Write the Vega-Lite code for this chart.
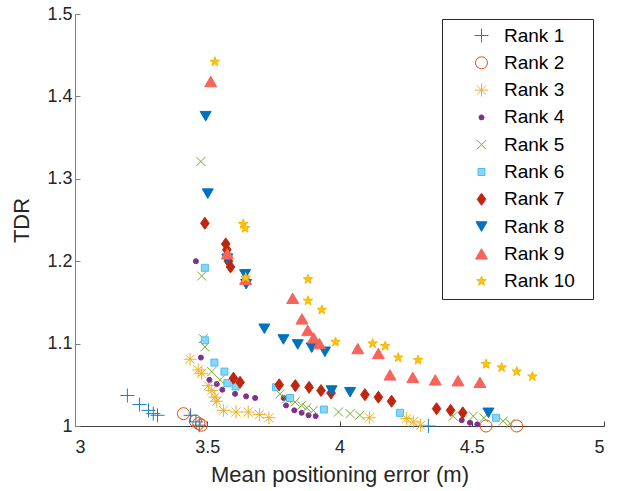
{
  "$schema": "https://vega.github.io/schema/vega-lite/v6.json",
  "width": 529,
  "height": 412,
  "autosize": "none",
  "padding": {"left": 75, "top": 14, "right": 22, "bottom": 65},
  "background": "white",
  "config": {
    "view": {"stroke": null},
    "font": "Liberation Sans"
  },
  "data": {
    "values": [
      {"r": "Rank 1", "x": 3.198, "y": 1.037},
      {"r": "Rank 1", "x": 3.244, "y": 1.026},
      {"r": "Rank 1", "x": 3.278, "y": 1.019},
      {"r": "Rank 1", "x": 3.296, "y": 1.015},
      {"r": "Rank 1", "x": 3.312, "y": 1.013},
      {"r": "Rank 1", "x": 3.437, "y": 1.013},
      {"r": "Rank 1", "x": 3.457, "y": 1.005},
      {"r": "Rank 1", "x": 3.47, "y": 1.001},
      {"r": "Rank 1", "x": 4.336, "y": 1.0},
      {"r": "Rank 2", "x": 3.41, "y": 1.015},
      {"r": "Rank 2", "x": 3.455, "y": 1.006},
      {"r": "Rank 2", "x": 3.468, "y": 1.003},
      {"r": "Rank 2", "x": 3.478, "y": 1.001},
      {"r": "Rank 2", "x": 4.554, "y": 1.0},
      {"r": "Rank 2", "x": 4.67, "y": 1.0},
      {"r": "Rank 3", "x": 3.435, "y": 1.081},
      {"r": "Rank 3", "x": 3.466, "y": 1.068},
      {"r": "Rank 3", "x": 3.479, "y": 1.064},
      {"r": "Rank 3", "x": 3.504, "y": 1.049},
      {"r": "Rank 3", "x": 3.517, "y": 1.043},
      {"r": "Rank 3", "x": 3.529, "y": 1.035},
      {"r": "Rank 3", "x": 3.536, "y": 1.03},
      {"r": "Rank 3", "x": 3.561, "y": 1.019},
      {"r": "Rank 3", "x": 3.609, "y": 1.017},
      {"r": "Rank 3", "x": 3.655, "y": 1.017},
      {"r": "Rank 3", "x": 3.697, "y": 1.014},
      {"r": "Rank 3", "x": 3.733, "y": 1.01},
      {"r": "Rank 3", "x": 4.113, "y": 1.01},
      {"r": "Rank 3", "x": 4.254, "y": 1.009},
      {"r": "Rank 3", "x": 4.279, "y": 1.005},
      {"r": "Rank 3", "x": 4.307, "y": 1.001},
      {"r": "Rank 4", "x": 3.457, "y": 1.2},
      {"r": "Rank 4", "x": 3.476, "y": 1.083},
      {"r": "Rank 4", "x": 3.508, "y": 1.056},
      {"r": "Rank 4", "x": 3.536, "y": 1.051},
      {"r": "Rank 4", "x": 3.557, "y": 1.044},
      {"r": "Rank 4", "x": 3.605, "y": 1.039},
      {"r": "Rank 4", "x": 3.647, "y": 1.036},
      {"r": "Rank 4", "x": 3.681, "y": 1.034},
      {"r": "Rank 4", "x": 3.789, "y": 1.034},
      {"r": "Rank 4", "x": 3.798, "y": 1.025},
      {"r": "Rank 4", "x": 3.829, "y": 1.019},
      {"r": "Rank 4", "x": 3.857, "y": 1.016},
      {"r": "Rank 4", "x": 3.883, "y": 1.013},
      {"r": "Rank 4", "x": 3.91, "y": 1.012},
      {"r": "Rank 4", "x": 4.462, "y": 1.007},
      {"r": "Rank 4", "x": 4.493, "y": 1.004},
      {"r": "Rank 4", "x": 4.521, "y": 1.002},
      {"r": "Rank 5", "x": 3.476, "y": 1.321},
      {"r": "Rank 5", "x": 3.479, "y": 1.182},
      {"r": "Rank 5", "x": 3.485, "y": 1.106},
      {"r": "Rank 5", "x": 3.491, "y": 1.096},
      {"r": "Rank 5", "x": 3.517, "y": 1.066},
      {"r": "Rank 5", "x": 3.548, "y": 1.056},
      {"r": "Rank 5", "x": 3.775, "y": 1.039},
      {"r": "Rank 5", "x": 3.8, "y": 1.033},
      {"r": "Rank 5", "x": 3.832, "y": 1.029},
      {"r": "Rank 5", "x": 3.857, "y": 1.025},
      {"r": "Rank 5", "x": 3.876, "y": 1.022},
      {"r": "Rank 5", "x": 3.901, "y": 1.019},
      {"r": "Rank 5", "x": 3.996, "y": 1.017},
      {"r": "Rank 5", "x": 4.04, "y": 1.015},
      {"r": "Rank 5", "x": 4.077, "y": 1.013},
      {"r": "Rank 5", "x": 4.43, "y": 1.012},
      {"r": "Rank 5", "x": 4.506, "y": 1.012},
      {"r": "Rank 5", "x": 4.546, "y": 1.01},
      {"r": "Rank 5", "x": 4.619, "y": 1.006},
      {"r": "Rank 5", "x": 4.645, "y": 1.003},
      {"r": "Rank 6", "x": 3.491, "y": 1.192},
      {"r": "Rank 6", "x": 3.577, "y": 1.206},
      {"r": "Rank 6", "x": 3.645, "y": 1.178},
      {"r": "Rank 6", "x": 3.491, "y": 1.104},
      {"r": "Rank 6", "x": 3.527, "y": 1.077},
      {"r": "Rank 6", "x": 3.565, "y": 1.066},
      {"r": "Rank 6", "x": 3.576, "y": 1.052},
      {"r": "Rank 6", "x": 3.607, "y": 1.048},
      {"r": "Rank 6", "x": 3.76, "y": 1.047},
      {"r": "Rank 6", "x": 3.813, "y": 1.034},
      {"r": "Rank 6", "x": 3.941, "y": 1.02},
      {"r": "Rank 6", "x": 4.229, "y": 1.016},
      {"r": "Rank 6", "x": 4.592, "y": 1.01},
      {"r": "Rank 7", "x": 3.491, "y": 1.246},
      {"r": "Rank 7", "x": 3.57, "y": 1.221},
      {"r": "Rank 7", "x": 3.574, "y": 1.214},
      {"r": "Rank 7", "x": 3.577, "y": 1.206},
      {"r": "Rank 7", "x": 3.58, "y": 1.2},
      {"r": "Rank 7", "x": 3.588, "y": 1.193},
      {"r": "Rank 7", "x": 3.599, "y": 1.058},
      {"r": "Rank 7", "x": 3.624, "y": 1.053},
      {"r": "Rank 7", "x": 3.772, "y": 1.05},
      {"r": "Rank 7", "x": 3.833, "y": 1.049},
      {"r": "Rank 7", "x": 3.885, "y": 1.047},
      {"r": "Rank 7", "x": 3.93, "y": 1.043},
      {"r": "Rank 7", "x": 3.968, "y": 1.04},
      {"r": "Rank 7", "x": 4.096, "y": 1.038},
      {"r": "Rank 7", "x": 4.147, "y": 1.035},
      {"r": "Rank 7", "x": 4.197, "y": 1.03},
      {"r": "Rank 7", "x": 4.367, "y": 1.021},
      {"r": "Rank 7", "x": 4.42, "y": 1.019},
      {"r": "Rank 7", "x": 4.466, "y": 1.016},
      {"r": "Rank 8", "x": 3.494, "y": 1.376},
      {"r": "Rank 8", "x": 3.502, "y": 1.282},
      {"r": "Rank 8", "x": 3.576, "y": 1.203},
      {"r": "Rank 8", "x": 3.643, "y": 1.184},
      {"r": "Rank 8", "x": 3.647, "y": 1.172},
      {"r": "Rank 8", "x": 3.716, "y": 1.118},
      {"r": "Rank 8", "x": 3.788, "y": 1.105},
      {"r": "Rank 8", "x": 3.842, "y": 1.099},
      {"r": "Rank 8", "x": 3.895, "y": 1.095},
      {"r": "Rank 8", "x": 3.945, "y": 1.09},
      {"r": "Rank 8", "x": 3.97, "y": 1.043},
      {"r": "Rank 8", "x": 4.04, "y": 1.041},
      {"r": "Rank 8", "x": 4.563, "y": 1.016},
      {"r": "Rank 9", "x": 3.513, "y": 1.418},
      {"r": "Rank 9", "x": 3.576, "y": 1.209},
      {"r": "Rank 9", "x": 3.645, "y": 1.178},
      {"r": "Rank 9", "x": 3.823, "y": 1.155},
      {"r": "Rank 9", "x": 3.858, "y": 1.13},
      {"r": "Rank 9", "x": 3.88, "y": 1.116},
      {"r": "Rank 9", "x": 3.902, "y": 1.107},
      {"r": "Rank 9", "x": 3.924, "y": 1.1},
      {"r": "Rank 9", "x": 4.069, "y": 1.094},
      {"r": "Rank 9", "x": 4.147, "y": 1.088},
      {"r": "Rank 9", "x": 4.191, "y": 1.062},
      {"r": "Rank 9", "x": 4.277, "y": 1.059},
      {"r": "Rank 9", "x": 4.362, "y": 1.056},
      {"r": "Rank 9", "x": 4.448, "y": 1.055},
      {"r": "Rank 9", "x": 4.531, "y": 1.053},
      {"r": "Rank 10", "x": 3.529, "y": 1.442},
      {"r": "Rank 10", "x": 3.636, "y": 1.245},
      {"r": "Rank 10", "x": 3.643, "y": 1.24},
      {"r": "Rank 10", "x": 3.645, "y": 1.18},
      {"r": "Rank 10", "x": 3.881, "y": 1.178},
      {"r": "Rank 10", "x": 3.881, "y": 1.152},
      {"r": "Rank 10", "x": 3.933, "y": 1.141},
      {"r": "Rank 10", "x": 3.985, "y": 1.102},
      {"r": "Rank 10", "x": 4.125, "y": 1.1},
      {"r": "Rank 10", "x": 4.173, "y": 1.097},
      {"r": "Rank 10", "x": 4.222, "y": 1.083},
      {"r": "Rank 10", "x": 4.297, "y": 1.08},
      {"r": "Rank 10", "x": 4.554, "y": 1.075},
      {"r": "Rank 10", "x": 4.613, "y": 1.071},
      {"r": "Rank 10", "x": 4.67, "y": 1.066},
      {"r": "Rank 10", "x": 4.729, "y": 1.06}
    ]
  },
  "mark": {"type": "point", "filled": true, "clip": false, "opacity": 1, "strokeWidth": 1},
  "encoding": {
    "x": {
      "field": "x", "type": "quantitative",
      "scale": {"domain": [3, 5], "nice": false, "zero": false},
      "axis": {
        "values": [3, 3.5, 4, 4.5, 5], "format": "~g", "grid": false,
        "title": "Mean positioning error (m)",
        "domainColor": "#404040", "tickColor": "#404040", "tickSize": -5,
        "labelFontSize": 18, "labelColor": "#262626", "labelPadding": 17,
        "titleFontSize": 22, "titleFontWeight": "normal", "titleColor": "#262626",
        "titleBaseline": "alphabetic", "titleY": 55
      }
    },
    "y": {
      "field": "y", "type": "quantitative",
      "scale": {"domain": [1, 1.5], "nice": false, "zero": false},
      "axis": {
        "values": [1, 1.1, 1.2, 1.3, 1.4, 1.5], "format": "~g", "grid": false,
        "title": "TDR",
        "domainColor": "#808080", "tickColor": "#808080", "tickSize": -5,
        "labelFontSize": 18, "labelColor": "#262626", "labelPadding": 8,
        "titleFontSize": 22, "titleFontWeight": "normal", "titleColor": "#262626",
        "titleBaseline": "alphabetic", "titleX": -47, "titleY": 206, "titleAngle": 270, "titleAlign": "center"
      }
    },
    "shape": {
      "field": "r", "type": "nominal",
      "scale": {
        "domain": ["Rank 1", "Rank 2", "Rank 3", "Rank 4", "Rank 5", "Rank 6", "Rank 7", "Rank 8", "Rank 9", "Rank 10"],
        "range": [
          "M-1,0H1M0,-1V1",
          "circle",
          "M-1,0H1M0,-1V1M-0.7,-0.7L0.7,0.7M-0.7,0.7L0.7,-0.7",
          "circle",
          "M-1,-1L1,1M-1,1L1,-1",
          "square",
          "M0,-1L0.72,0L0,1L-0.72,0Z",
          "triangle-down",
          "triangle-up",
          "M0,-1L0.235,-0.324L0.951,-0.309L0.38,0.124L0.588,0.809L0,0.4L-0.588,0.809L-0.38,0.124L-0.951,-0.309L-0.235,-0.324Z"
        ]
      },
      "legend": {
        "title": null, "orient": "none", "legendX": 367, "legendY": 5,
        "strokeColor": "#262626", "fillColor": "white", "padding": 7,
        "labelFontSize": 19, "labelColor": "#000000", "labelFont": "Liberation Sans",
        "rowPadding": 7.3, "symbolOffset": 23, "labelOffset": 13, "symbolStrokeWidth": 1,
        "labelExpr": "datum.label + '\u00a0\u00a0\u200b'"
      }
    },
    "fill": {
      "field": "r", "type": "nominal",
      "scale": {
        "domain": ["Rank 1", "Rank 2", "Rank 3", "Rank 4", "Rank 5", "Rank 6", "Rank 7", "Rank 8", "Rank 9", "Rank 10"],
        "range": ["transparent", "transparent", "transparent", "#7E2F8E", "transparent", "#88D6F7", "#C0260F", "#0072BD", "#F7645A", "#FFC20E"]
      }
    },
    "stroke": {
      "field": "r", "type": "nominal",
      "scale": {
        "domain": ["Rank 1", "Rank 2", "Rank 3", "Rank 4", "Rank 5", "Rank 6", "Rank 7", "Rank 8", "Rank 9", "Rank 10"],
        "range": ["#1A7CC4", "#D95319", "#EDB120", "#7E2F8E", "#77AC30", "#4DBEEE", "#C0260F", "#0072BD", "#F7645A", "#F5B800"]
      }
    },
    "size": {
      "field": "r", "type": "nominal",
      "scale": {
        "type": "ordinal",
        "domain": ["Rank 1", "Rank 2", "Rank 3", "Rank 4", "Rank 5", "Rank 6", "Rank 7", "Rank 8", "Rank 9", "Rank 10"],
        "range": [196, 144, 169, 25, 81, 49, 144, 121, 144, 100]
      }
    }
  }
}
